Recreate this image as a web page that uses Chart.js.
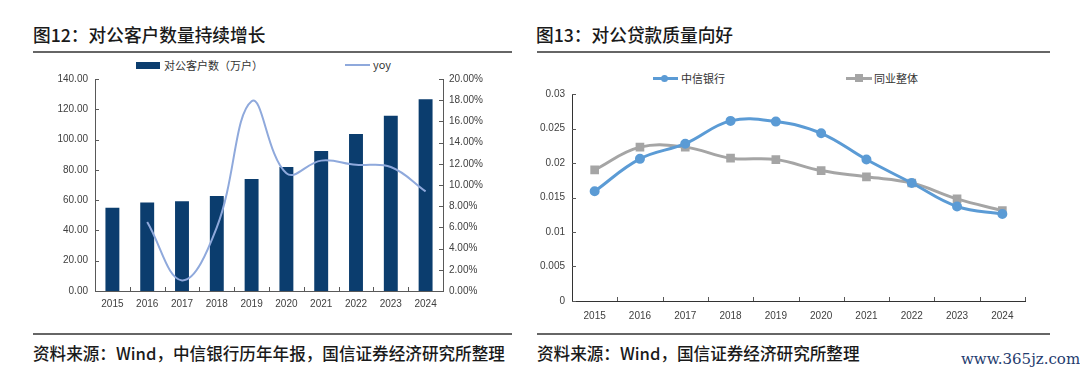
<!DOCTYPE html>
<html>
<head>
<meta charset="utf-8">
<script src="https://cdn.jsdelivr.net/npm/chart.js@4.4.1/dist/chart.umd.min.js"></script>
<style>
  html, body { margin: 0; padding: 0; background: #fff; }
  body { width: 1080px; height: 376px; position: relative; overflow: hidden;
         font-family: "Noto Sans CJK SC", "Noto Sans", sans-serif; }
  .abs { position: absolute; white-space: nowrap; }
  .title { font-size: 17.7px; font-weight: 500; color: #1a1a1a; line-height: 20px; }
  .hline { position: absolute; height: 2px; background: #666; }
  .source { font-size: 16.6px; font-weight: 500; color: #1a1a1a; line-height: 20px; }
  .leg { font-size: 11px; color: #333; line-height: 14px; }
  canvas { position: absolute; }
</style>
</head>
<body>
<div class="abs title" style="left:33px; top:24px;">图12：对公客户数量持续增长</div>
<div class="hline" style="left:33px; top:51px; width:479px;"></div>
<div class="abs title" style="left:536px; top:24px;">图13：对公贷款质量向好</div>
<div class="hline" style="left:537px; top:51px; width:513px;"></div>

<!-- left legend -->
<div class="abs" style="left:136px; top:62px; width:24px; height:7px; background:#0b3d6e;"></div>
<div class="abs leg" style="left:164px; top:58px;">对公客户数（万户）</div>
<div class="abs" style="left:345px; top:64px; width:25px; height:2px; background:#8fa9dc;"></div>
<div class="abs leg" style="left:373px; top:57px;">yoy</div>

<!-- right legend -->
<div class="abs" style="left:653px; top:77px; width:25px; height:3px; background:#5b9bd5;"></div>
<div class="abs" style="left:661px; top:75px; width:7px; height:7px; border-radius:50%; background:#5b9bd5;"></div>
<div class="abs leg" style="left:681px; top:71px;">中信银行</div>
<div class="abs" style="left:846px; top:77px; width:26px; height:3px; background:#a5a5a5;"></div>
<div class="abs" style="left:855px; top:74px; width:8px; height:8px; background:#a5a5a5;"></div>
<div class="abs leg" style="left:874px; top:71px;">同业整体</div>

<canvas id="c1" width="510" height="260" style="left:0px; top:56px;"></canvas>
<canvas id="c2" width="520" height="262" style="left:530px; top:60px;"></canvas>

<div class="hline" style="left:33px; top:333px; width:479px;"></div>
<div class="hline" style="left:537px; top:333px; width:513px;"></div>
<div class="abs source" style="left:33px; top:343px;">资料来源：Wind，中信银行历年年报，国信证券经济研究所整理</div>
<div class="abs source" style="left:537px; top:343px;">资料来源：Wind，国信证券经济研究所整理</div>
<div class="abs" style="left:961px; top:350px; font-family:'DejaVu Serif','Liberation Serif',serif; font-size:15px; color:#1f3b6e;">www.365jz.com</div>

<script>
// ---- data ----
const years = ['2015','2016','2017','2018','2019','2020','2021','2022','2023','2024'];
const corpClients = [55.0, 58.5, 59.2, 62.7, 74.0, 81.9, 92.5, 103.6, 115.7, 126.6];
const corpClientsYoy = [null, 6.5, 1.0, 6.0, 17.9, 11.1, 12.3, 11.9, 11.7, 9.4];
const citicNpl = [0.0159, 0.0206, 0.0228, 0.0261, 0.0260, 0.0243, 0.0205, 0.0171, 0.0137, 0.0126];
const industryNpl = [0.0190, 0.0223, 0.0223, 0.0207, 0.0205, 0.0189, 0.0180, 0.0171, 0.0148, 0.0131];

const tickFont = { family: "'Liberation Sans', Arial, sans-serif", size: 10 };
const axisColor = '#595959';
const labelColor = '#404040';

// inside tick marks plugin
const insideTicks = {
  id: 'insideTicks',
  afterDraw(chart) {
    const ctx = chart.ctx;
    ctx.save();
    ctx.strokeStyle = axisColor;
    ctx.lineWidth = 1;
    const len = 4;
    const xs = chart.scales.x;
    const n = xs.ticks.length;
    for (let i = 1; i <= n; i++) {
      const px = Math.round(xs.getPixelForValue(i - 0.5)) + 0.5;
      ctx.beginPath();
      ctx.moveTo(px, xs.top);
      ctx.lineTo(px, xs.top - len);
      ctx.stroke();
    }
    Object.values(chart.scales).forEach(s => {
      if (s.axis !== 'y') return;
      s.ticks.forEach(t => {
        const py = Math.round(s.getPixelForValue(t.value)) + 0.5;
        ctx.beginPath();
        if (s.position === 'left') { ctx.moveTo(s.right, py); ctx.lineTo(s.right + len, py); }
        else { ctx.moveTo(s.left - len, py); ctx.lineTo(s.left, py); }
        ctx.stroke();
      });
    });
    ctx.restore();
  }
};

// ---- chart 1 ----
new Chart(document.getElementById('c1'), {
  type: 'bar',
  data: {
    labels: years,
    datasets: [
      { type: 'line', label: 'yoy', data: corpClientsYoy, yAxisID: 'y1',
        borderColor: '#8fa9dc', borderWidth: 2, pointRadius: 0, tension: 0.4,
        fill: false, order: 0 },
      { type: 'bar', label: '对公客户数（万户）', data: corpClients, yAxisID: 'y',
        backgroundColor: '#0b3d6e', barPercentage: 0.4, categoryPercentage: 1.0, order: 1 }
    ]
  },
  options: {
    responsive: false, animation: false, devicePixelRatio: 1,
    layout: { padding: { top: 23, left: 0, right: 0, bottom: 0 } },
    plugins: { legend: { display: false }, tooltip: { enabled: false } },
    scales: {
      x: {
        grid: { display: false, drawTicks: false },
        border: { display: true, color: axisColor, width: 1 },
        ticks: { font: tickFont, color: labelColor, padding: 7, maxRotation: 0 },
        afterFit(s) { s.height = 25; }
      },
      y: {
        position: 'left', min: 0, max: 140,
        grid: { display: false, drawTicks: false },
        border: { display: true, color: axisColor, width: 1 },
        ticks: { stepSize: 20, font: tickFont, color: labelColor, padding: 7,
                 callback: v => v.toFixed(2) },
        afterFit(s) { s.width = 95; }
      },
      y1: {
        position: 'right', min: 0, max: 20,
        grid: { display: false, drawTicks: false },
        border: { display: true, color: axisColor, width: 1 },
        ticks: { stepSize: 2, font: tickFont, color: labelColor, padding: 6,
                 callback: v => v.toFixed(2) + '%' },
        afterFit(s) { s.width = 67; }
      }
    }
  },
  plugins: [insideTicks]
});

// ---- chart 2 ----
new Chart(document.getElementById('c2'), {
  type: 'line',
  data: {
    labels: years,
    datasets: [
      { label: '中信银行', data: citicNpl, borderColor: '#5b9bd5', backgroundColor: '#5b9bd5',
        borderWidth: 3, pointRadius: 3.5, pointStyle: 'circle', tension: 0.4 },
      { label: '同业整体', data: industryNpl, borderColor: '#a5a5a5', backgroundColor: '#a5a5a5',
        borderWidth: 3, pointRadius: 4, pointStyle: 'rect', tension: 0.4 }
    ]
  },
  options: {
    responsive: false, animation: false, devicePixelRatio: 1,
    layout: { padding: { top: 34, left: 0, right: 25, bottom: 0 } },
    plugins: { legend: { display: false }, tooltip: { enabled: false } },
    scales: {
      x: {
        offset: true,
        grid: { display: false, drawTicks: false, offset: true },
        border: { display: true, color: '#333', width: 1 },
        ticks: { font: tickFont, color: labelColor, padding: 9, maxRotation: 0 },
        afterFit(s) { s.height = 21; }
      },
      y: {
        position: 'left', min: 0, max: 0.03,
        grid: { display: false, drawTicks: false },
        border: { display: true, color: '#333', width: 1 },
        ticks: { stepSize: 0.005, font: tickFont, color: labelColor, padding: 7,
                 callback: v => String(Number(v.toFixed(3))) },
        afterFit(s) { s.width = 42; }
      }
    }
  },
  plugins: [insideTicks]
});
</script>
</body>
</html>
